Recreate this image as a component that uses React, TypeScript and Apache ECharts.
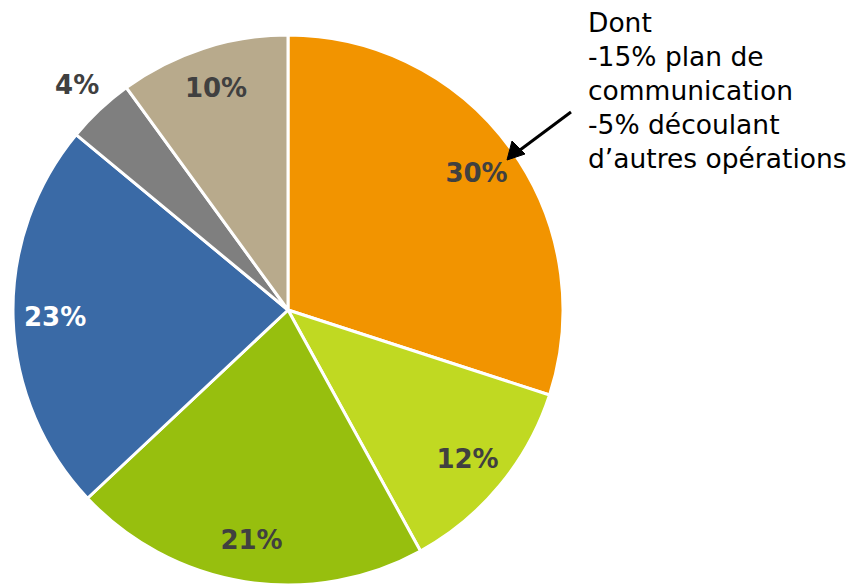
import React, { useEffect, useRef } from "react";
import * as echarts from "echarts";

const categories = ["A", "B", "C", "D", "E", "F"];
const values = [30, 12, 21, 23, 4, 10];
const colors = ["#F29400", "#C0D922", "#97BF0E", "#3A6AA6", "#7F7F7F", "#B8AA8C"];
const labelColors = ["#404040", "#404040", "#404040", "#FFFFFF", "#404040", "#404040"];
const noteLines = ["Dont", "-15% plan de", "communication", "-5% découlant", "d\u2019autres opérations"];

const FONT = "DejaVu Sans";

export default function App() {
  const ref = useRef<HTMLDivElement>(null);
  useEffect(() => {
    document.body.style.margin = "0";
    const chart = echarts.init(ref.current!, undefined, { renderer: "svg" });
    const center = [288, 310];
    const labelStyle = (i: number) => ({
      color: labelColors[i],
      fontFamily: FONT,
      fontWeight: "bold" as const,
      fontSize: 26,
    });
    chart.setOption({
      animation: false,
      backgroundColor: "#FFFFFF",
      series: [
        {
          type: "pie",
          center,
          radius: [0, 275],
          startAngle: 90,
          clockwise: true,
          label: { show: false },
          labelLine: { show: false },
          itemStyle: { borderColor: "#FFFFFF", borderWidth: 3 },
          silent: true,
          data: categories.map((c, i) => ({ name: c, value: values[i], itemStyle: { color: colors[i] } })),
        },
        {
          type: "pie",
          center,
          radius: [185, 275],
          startAngle: 90,
          silent: true,
          labelLine: { show: false },
          itemStyle: { color: "transparent" },
          data: categories.map((c, i) => ({
            name: c,
            value: values[i],
            label: { show: i !== 4, position: "inside", formatter: `${values[i]}%`, ...labelStyle(i) },
          })),
        },
        {
          type: "pie",
          center,
          radius: [285, 325],
          startAngle: 90,
          silent: true,
          labelLine: { show: false },
          itemStyle: { color: "transparent" },
          data: categories.map((c, i) => ({
            name: c,
            value: values[i],
            label: { show: i === 4, position: "inside", formatter: `${values[i]}%`, ...labelStyle(i) },
          })),
        },
      ],
      graphic: [
        {
          type: "text",
          left: 588,
          top: 5,
          z: 100,
          style: {
            text: noteLines.join("\n"),
            fontFamily: FONT,
            fontSize: 26.5,
            lineHeight: 34,
            fill: "#000000",
          },
        },
        {
          type: "line",
          z: 100,
          shape: { x1: 571, y1: 112, x2: 520, y2: 150 },
          style: { stroke: "#000000", lineWidth: 3 },
        },
        {
          type: "polygon",
          z: 101,
          shape: { points: [[507, 160], [525, 154], [512, 141]] },
          style: { fill: "#000000", stroke: "#000000", lineWidth: 1 },
        },
      ],
    });
    return () => chart.dispose();
  }, []);
  return <div ref={ref} style={{ width: 859, height: 584 }} />;
}
